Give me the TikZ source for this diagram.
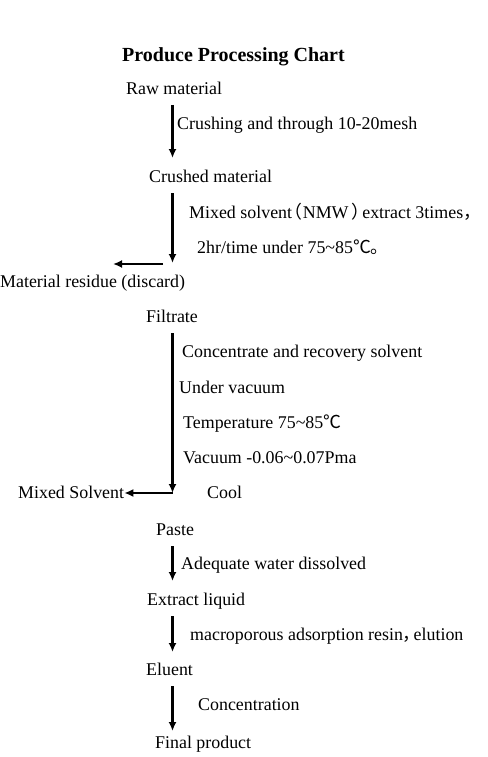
\documentclass[tikz,border=0pt]{standalone}
\usepackage{fontspec}
\setmainfont{Liberation Serif}
\newfontfamily\cjkfont{Noto Sans CJK SC}
\newcommand\wide[1]{{\cjkfont #1}}
\newcommand\lpar{\makebox[0.6em][r]{\cjkfont （}}
\newcommand\rpar{\makebox[0.6em][l]{\cjkfont ）}}
\newcommand\comma{\makebox[0.6em][l]{\cjkfont ，}}
\usepackage{tikz}
\usetikzlibrary{arrows.meta,calc,positioning}

\begin{document}
\begin{tikzpicture}[x=1pt, y=-1pt, font=\fontsize{17.9}{20}\selectfont,
  stage/.style={anchor=base west, inner sep=0pt},
  note/.style={anchor=base west, inner sep=0pt},
  flow/.style={line width=2.2pt, -{Latex[length=9pt,width=8pt]}}]
  \useasboundingbox (0,0) rectangle (487,757);
  \node[anchor=base, font=\fontsize{20}{24}\selectfont\bfseries] (title) at (233.5,62) {Produce Processing Chart};
  % main stages
  \node[stage] (raw) at (126,95) {Raw material};
  \node[stage] (crushed) at (149,182) {Crushed material};
  \node[stage] (residue) at (0,287) {Material residue (discard)};
  \node[stage] (filtrate) at (146,322) {Filtrate};
  \node[stage] (solvent) at (18,498) {Mixed Solvent};
  \node[stage] (paste) at (156,535) {Paste};
  \node[stage] (liquid) at (147,605) {Extract liquid};
  \node[stage] (eluent) at (146,675) {Eluent};
  \node[stage] (final) at (155,748) {Final product};
  % process notes
  \node[note] (crush) at (177,130) {Crushing and through 10-20mesh};
  \node[note] (mix) at (189,218) {Mixed solvent\lpar NMW\,\rpar extract 3times\comma};
  \node[note] (time) at (197,253) {2hr/time under 75\textasciitilde 85\wide{℃。}};
  \node[note] (conc) at (182,357) {Concentrate and recovery solvent};
  \node[note] (vac) at (179,393) {Under vacuum};
  \node[note] (temp) at (183,428) {Temperature 75\textasciitilde 85\wide{℃}};
  \node[note] (press) at (183,463) {Vacuum -0.06\textasciitilde 0.07Pma};
  \node[note] (cool) at (207,498) {Cool};
  \node[note] (water) at (181,569) {Adequate water dissolved};
  \node[note] (resin) at (190,640) {macroporous adsorption resin\comma elution};
  \node[note] (concn) at (198,710) {Concentration};
  % spine and branch points
  \coordinate (sp) at (172.5,0);
  \coordinate (j1) at (172.5,263);
  \coordinate (d1) at (113,264);
  \coordinate (j2) at (172.5,493);
  \draw[flow] ($(raw.base -| sp)+(0,10)$) -- ($(crushed.base -| sp)+(0,-24)$);
  \draw[flow] ($(crushed.base -| sp)+(0,11)$) -- (j1);
  \draw[flow] ($(j1)+(-9.5,1)$) -- (d1);
  \draw[flow] ($(filtrate.base -| sp)+(0,11)$) -- (j2);
  \draw[flow] (j2) -- (solvent.east |- j2);
  \draw[flow] ($(paste.base -| sp)+(0,11)$) -- ($(liquid.base -| sp)+(0,-24)$);
  \draw[flow] ($(liquid.base -| sp)+(0,11)$) -- ($(eluent.base -| sp)+(0,-23)$);
  \draw[flow] ($(eluent.base -| sp)+(0,11)$) -- ($(final.base -| sp)+(0,-17)$);
\end{tikzpicture}
\end{document}
